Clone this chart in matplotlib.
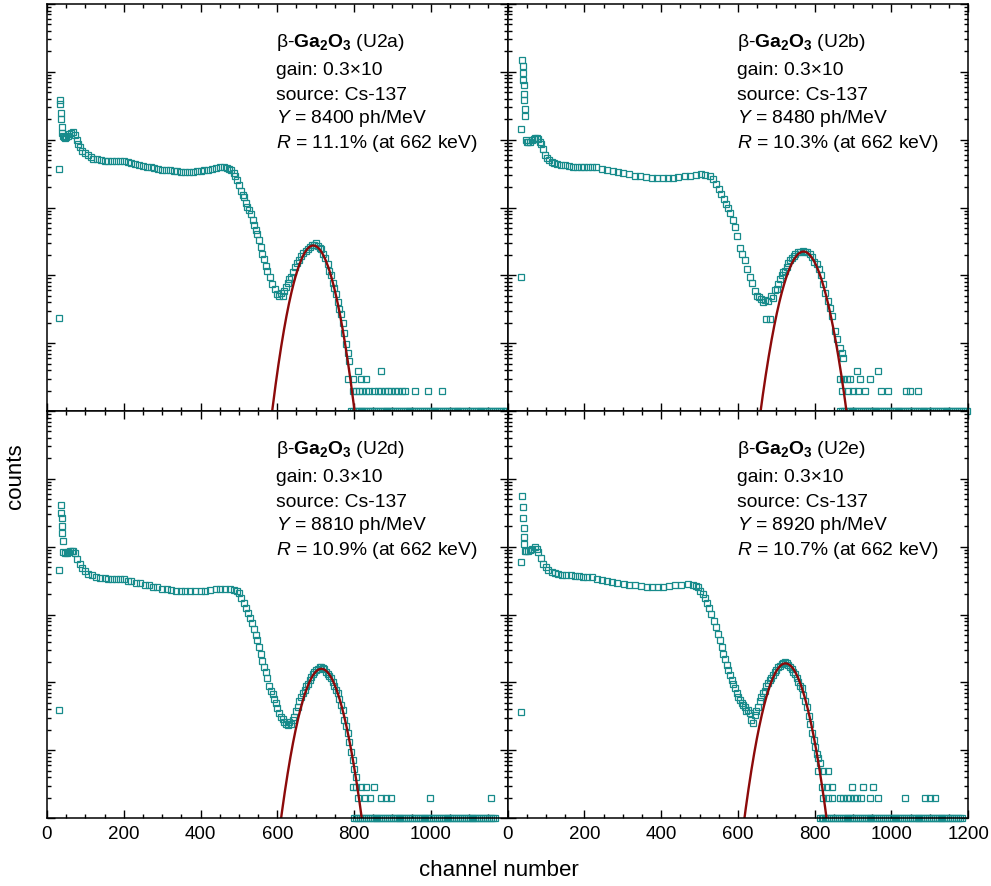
import numpy as np
from matplotlib import pyplot as plt
from matplotlib.ticker import MultipleLocator, LogLocator, NullFormatter

plt.rcParams['font.family'] = ['Liberation Sans', 'DejaVu Sans']
plt.rcParams['mathtext.fontset'] = 'custom'
plt.rcParams['mathtext.rm'] = 'Liberation Sans'
plt.rcParams['mathtext.it'] = 'Liberation Sans:italic'
plt.rcParams['mathtext.bf'] = 'Liberation Sans:bold'

# values: channel and log10(counts)
u2a_ch = [32, 32, 34, 35, 36, 37, 38, 40, 41, 44, 47, 50, 54, 58, 62, 67, 72, 77, 82, 86, 92, 99,
          106, 114, 121, 130, 140, 150, 160, 170, 180, 191, 200, 210, 220, 230, 240, 250, 260,
          270, 280, 290, 300, 310, 320, 330, 340, 350, 360, 370, 380, 390, 400, 410, 420, 430,
          440, 452, 460, 468, 474, 480, 486, 491, 496, 501, 506, 510, 513, 518, 522, 527, 531,
          536, 540, 544, 548, 552, 557, 561, 565, 570, 574, 580, 587, 593, 600, 605, 610, 614,
          618, 622, 627, 631, 635, 640, 646, 652, 657, 662, 668, 674, 679, 685, 690, 696, 700,
          705, 710, 714, 720, 725, 731, 736, 740, 745, 749, 753, 757, 762, 766, 770, 775, 779,
          784, 788]
u2a_logc = [3.57, 1.37, 4.58, 4.52, 4.40, 4.30, 4.18, 4.10, 4.06, 4.04, 4.03, 4.04, 4.06, 4.08,
            4.10, 4.11, 4.07, 3.99, 3.94, 3.89, 3.84, 3.80, 3.77, 3.74, 3.72, 3.71, 3.70, 3.69,
            3.69, 3.69, 3.69, 3.68, 3.68, 3.67, 3.66, 3.64, 3.63, 3.61, 3.60, 3.59, 3.58, 3.57,
            3.56, 3.56, 3.55, 3.54, 3.54, 3.53, 3.53, 3.53, 3.53, 3.54, 3.54, 3.55, 3.56, 3.57,
            3.58, 3.59, 3.59, 3.58, 3.57, 3.55, 3.51, 3.46, 3.40, 3.33, 3.24, 3.18, 3.15, 3.07,
            3.01, 2.96, 2.91, 2.82, 2.74, 2.67, 2.61, 2.52, 2.42, 2.32, 2.24, 2.14, 2.07, 1.97,
            1.87, 1.80, 1.73, 1.70, 1.74, 1.70, 1.77, 1.83, 1.88, 1.94, 1.97, 2.05, 2.12, 2.18,
            2.22, 2.28, 2.33, 2.36, 2.39, 2.42, 2.44, 2.44, 2.47, 2.43, 2.41, 2.39, 2.31, 2.25,
            2.17, 2.07, 2.00, 1.89, 1.82, 1.72, 1.61, 1.50, 1.43, 1.30, 1.15, 0.99, 0.85, 0.74]
u2a_tail_ch = [810, 871, 783, 796, 818, 831, 796, 805, 814, 822, 831, 840, 853, 862, 871, 880,
               888, 897, 906, 915, 924, 932, 958, 993, 1028]
u2a_tail_logc = [0.59, 0.59, 0.47, 0.47, 0.47, 0.47] + [0.29] * 19
u2a_floor = (792, 1200)

u2b_ch = [35, 35, 38, 39, 40, 41, 42, 43, 44, 45, 46, 48, 50, 54, 58, 63, 68, 72, 76, 80, 84, 88,
          92, 97, 102, 108, 115, 122, 130, 140, 150, 160, 170, 180, 190, 200, 210, 220, 230, 245,
          260, 275, 288, 300, 315, 332, 345, 360, 375, 390, 405, 418, 430, 445, 462, 475, 490,
          505, 515, 527, 535, 544, 550, 557, 563, 570, 575, 580, 586, 592, 598, 605, 611, 618,
          624, 631, 637, 644, 650, 655, 661, 665, 670, 674, 679, 683, 687, 692, 697, 701, 705,
          710, 714, 718, 722, 727, 731, 736, 740, 745, 750, 757, 763, 770, 776, 781, 787, 793,
          799, 805, 810, 816, 822, 828, 834, 839, 845, 852, 858, 865, 870, 874]
u2b_logc = [1.98, 4.15, 5.17, 5.08, 4.99, 4.88, 4.80, 4.68, 4.58, 4.45, 4.35, 4.00, 3.96, 3.96,
            3.97, 3.99, 4.01, 4.03, 4.03, 4.01, 3.97, 3.94, 3.86, 3.77, 3.73, 3.70, 3.67, 3.66,
            3.64, 3.63, 3.62, 3.61, 3.60, 3.60, 3.60, 3.60, 3.60, 3.59, 3.59, 3.57, 3.55, 3.54,
            3.52, 3.51, 3.49, 3.47, 3.46, 3.45, 3.44, 3.44, 3.44, 3.44, 3.44, 3.45, 3.46, 3.47,
            3.48, 3.49, 3.48, 3.47, 3.42, 3.35, 3.28, 3.20, 3.12, 3.05, 3.00, 2.92, 2.82, 2.71,
            2.58, 2.41, 2.32, 2.22, 2.10, 1.97, 1.88, 1.77, 1.70, 1.68, 1.65, 1.60, 1.63, 1.36,
            1.62, 1.36, 1.70, 1.67, 1.78, 1.80, 1.87, 1.95, 2.00, 2.05, 2.07, 2.13, 2.18, 2.22,
            2.25, 2.29, 2.31, 2.34, 2.35, 2.36, 2.34, 2.35, 2.32, 2.27, 2.20, 2.17, 2.10, 2.00,
            1.87, 1.74, 1.62, 1.52, 1.40, 1.18, 1.06, 0.93, 0.85, 0.78]
u2b_tail_ch = [909, 965, 865, 874, 883, 891, 917, 943, 870, 887, 900, 913, 930, 974, 991, 1039,
               1048, 1070]
u2b_tail_logc = [0.59, 0.59] + [0.47] * 6 + [0.29] * 10
u2b_floor = (866, 1200)

u2d_ch = [32, 32, 36, 37, 38, 39, 40, 41, 43, 47, 52, 56, 60, 64, 69, 74, 79, 85, 91, 98, 108,
          118, 128, 139, 150, 160, 170, 180, 191, 200, 210, 220, 232, 243, 255, 265, 276, 287,
          300, 312, 324, 336, 348, 360, 372, 385, 400, 412, 425, 440, 452, 465, 478, 488, 494,
          500, 506, 512, 518, 524, 530, 535, 540, 544, 548, 553, 557, 561, 566, 570, 574, 579,
          583, 588, 592, 596, 600, 605, 609, 614, 618, 622, 627, 631, 635, 640, 644, 649, 653,
          657, 662, 666, 671, 675, 679, 684, 688, 692, 696, 701, 705, 710, 714, 718, 722, 727,
          731, 735, 740, 744, 748, 753, 757, 762, 766, 771, 775, 779, 783, 788, 792, 797, 801,
          805]
u2d_logc = [3.66, 1.59, 4.62, 4.50, 4.43, 4.31, 4.20, 4.09, 3.92, 3.90, 3.91, 3.92, 3.93, 3.94,
            3.94, 3.90, 3.82, 3.75, 3.68, 3.64, 3.60, 3.58, 3.56, 3.54, 3.54, 3.53, 3.53, 3.53,
            3.53, 3.52, 3.50, 3.49, 3.47, 3.46, 3.44, 3.43, 3.41, 3.40, 3.38, 3.37, 3.36, 3.35,
            3.34, 3.34, 3.34, 3.34, 3.34, 3.35, 3.36, 3.37, 3.38, 3.38, 3.38, 3.36, 3.34, 3.31,
            3.24, 3.17, 3.10, 3.02, 2.95, 2.87, 2.78, 2.70, 2.62, 2.52, 2.42, 2.32, 2.22, 2.15,
            2.07, 1.95, 1.88, 1.83, 1.76, 1.69, 1.62, 1.55, 1.49, 1.46, 1.41, 1.39, 1.37, 1.41,
            1.39, 1.45, 1.49, 1.58, 1.64, 1.72, 1.78, 1.84, 1.89, 1.94, 1.98, 2.03, 2.08, 2.12,
            2.15, 2.18, 2.20, 2.22, 2.23, 2.21, 2.19, 2.16, 2.12, 2.10, 2.07, 2.00, 1.95, 1.89,
            1.84, 1.75, 1.66, 1.59, 1.45, 1.35, 1.25, 1.12, 0.97, 0.85, 0.72, 0.61]
u2d_tail_ch = [797, 805, 818, 831, 853, 810, 828, 841, 871, 884, 897, 997, 1158]
u2d_tail_logc = [0.46] * 5 + [0.29] * 8
u2d_floor = (801, 1167)

u2e_ch = [35, 35, 38, 39, 41, 42, 43, 44, 45, 49, 54, 59, 64, 71, 76, 80, 86, 93, 100, 106, 115,
          124, 132, 142, 153, 164, 175, 186, 197, 208, 219, 232, 245, 258, 271, 286, 302, 317,
          332, 347, 362, 377, 392, 406, 421, 436, 452, 470, 483, 490, 496, 502, 508, 514, 520,
          526, 531, 537, 543, 549, 553, 558, 562, 566, 571, 575, 579, 584, 588, 592, 597, 601,
          606, 610, 614, 618, 622, 627, 631, 635, 640, 644, 648, 653, 657, 661, 666, 670, 674,
          679, 683, 687, 692, 696, 700, 705, 710, 714, 718, 722, 727, 731, 735, 740, 744, 748,
          753, 757, 762, 766, 770, 775, 779, 784, 788, 792, 797, 801, 805, 809, 813]
u2e_logc = [3.78, 1.56, 4.75, 4.58, 4.43, 4.28, 4.14, 4.04, 3.94, 3.93, 3.93, 3.95, 3.97, 3.99,
            3.96, 3.92, 3.84, 3.75, 3.70, 3.65, 3.62, 3.61, 3.60, 3.59, 3.58, 3.58, 3.57, 3.57,
            3.56, 3.56, 3.55, 3.53, 3.51, 3.50, 3.48, 3.46, 3.45, 3.44, 3.43, 3.42, 3.41, 3.41,
            3.40, 3.41, 3.42, 3.43, 3.44, 3.45, 3.44, 3.42, 3.40, 3.35, 3.30, 3.25, 3.17, 3.09,
            3.01, 2.91, 2.82, 2.72, 2.62, 2.52, 2.42, 2.34, 2.26, 2.18, 2.11, 2.04, 1.98, 1.91,
            1.84, 1.78, 1.74, 1.70, 1.66, 1.64, 1.58, 1.60, 1.55, 1.45, 1.40, 1.52, 1.58, 1.64,
            1.72, 1.78, 1.84, 1.88, 1.94, 1.99, 2.03, 2.07, 2.11, 2.15, 2.18, 2.22, 2.24, 2.27,
            2.28, 2.30, 2.28, 2.25, 2.22, 2.19, 2.15, 2.13, 2.06, 2.00, 1.95, 1.91, 1.82, 1.72,
            1.64, 1.50, 1.38, 1.25, 1.15, 1.05, 0.95, 0.88, 0.81]
u2e_tail_ch = [809, 822, 835, 818, 831, 844, 896, 926, 952, 822, 835, 844, 865, 875, 884, 893,
               902, 911, 922, 943, 965, 1035, 1087, 1100, 1113]
u2e_tail_logc = [0.70] * 3 + [0.46] * 6 + [0.29] * 16
u2e_floor = (813, 1187)

# gaussian fits of the 662 keV peak: log10(peak counts), centre, sigma (channels)
fit_logpeak = [2.44, 2.35, 2.20, 2.28]
fit_center = [694, 771, 715, 724]
fit_sigma = [32, 34, 33, 33]

samples = ['U2a', 'U2b', 'U2d', 'U2e']
light_yield = [8400, 8480, 8810, 8920]
resolution = [11.1, 10.3, 10.9, 10.7]

spectra = [(u2a_ch, u2a_logc, u2a_tail_ch, u2a_tail_logc, u2a_floor),
           (u2b_ch, u2b_logc, u2b_tail_ch, u2b_tail_logc, u2b_floor),
           (u2d_ch, u2d_logc, u2d_tail_ch, u2d_tail_logc, u2d_floor),
           (u2e_ch, u2e_logc, u2e_tail_ch, u2e_tail_logc, u2e_floor)]

teal = '#178b8b'
darkred = '#8c0a0a'

fig, axes = plt.subplots(2, 2, figsize=(9.91, 8.86), dpi=100)
fig.subplots_adjust(left=0.0474, right=0.977, top=0.9955, bottom=0.0767, wspace=0, hspace=0)

for i, ax in enumerate(axes.flat):
    ch, logc, tch, tlogc, floor = spectra[i]
    ch_all = list(ch) + list(tch)
    c_all = 10 ** np.array(list(logc) + list(tlogc))
    ax.plot(ch_all, c_all, 's', ms=3.8, mfc='none', mec=teal, mew=0.9)
    fl = np.arange(floor[0], floor[1], 5)
    ax.plot(fl, np.ones(len(fl)), 's', ms=3.8, mfc='none', mec=teal, mew=0.9, clip_on=False)

    xf = np.linspace(fit_center[i] - 5 * fit_sigma[i], fit_center[i] + 5 * fit_sigma[i], 400)
    yf = 10 ** fit_logpeak[i] * np.exp(-(xf - fit_center[i]) ** 2 / (2 * fit_sigma[i] ** 2))
    ax.plot(xf, yf, '-', color=darkred, lw=1.7)

    ax.set_yscale('log')
    ax.set_ylim(1, 1e6)
    ax.set_xlim(0, 1200)
    ax.yaxis.set_major_locator(LogLocator(base=10, numticks=10))
    ax.yaxis.set_minor_locator(LogLocator(base=10, subs=np.arange(2, 10), numticks=20))
    ax.yaxis.set_major_formatter(NullFormatter())
    ax.yaxis.set_minor_formatter(NullFormatter())
    ax.xaxis.set_major_locator(MultipleLocator(200))
    ax.xaxis.set_minor_locator(MultipleLocator(50))
    ax.tick_params(which='both', direction='in', top=True, right=True, width=1.0,
                   labelsize=13.5, pad=6)
    ax.tick_params(which='major', length=6)
    ax.tick_params(which='minor', length=3)
    for s in ax.spines.values():
        s.set_linewidth(1.1)

    if i < 2:
        ax.tick_params(labelbottom=False)
    elif i == 2:
        ax.set_xticks([0, 200, 400, 600, 800, 1000])
        ax.xaxis.set_minor_locator(MultipleLocator(50))
    else:
        ax.set_xticks([0, 200, 400, 600, 800, 1000, 1200])

    lines = ['β-$\\mathbf{Ga_2O_3}$ (%s)' % samples[i],
             'gain: 0.3×10',
             'source: Cs-137',
             '$Y$ = %d ph/MeV' % light_yield[i],
             '$R$ = %.1f%% (at 662 keV)' % resolution[i]]
    ys = [0.905, 0.837, 0.776, 0.718, 0.657]
    for t, y in zip(lines, ys):
        ax.text(0.497, y, t, transform=ax.transAxes, fontsize=13.9, va='center', ha='left')

fig.text(0.016, 0.463, 'counts', rotation=90, fontsize=16, va='center', ha='center')
fig.text(0.503, 0.018, 'channel number', fontsize=16, va='center', ha='center')

plt.savefig('out.png', dpi=100)
